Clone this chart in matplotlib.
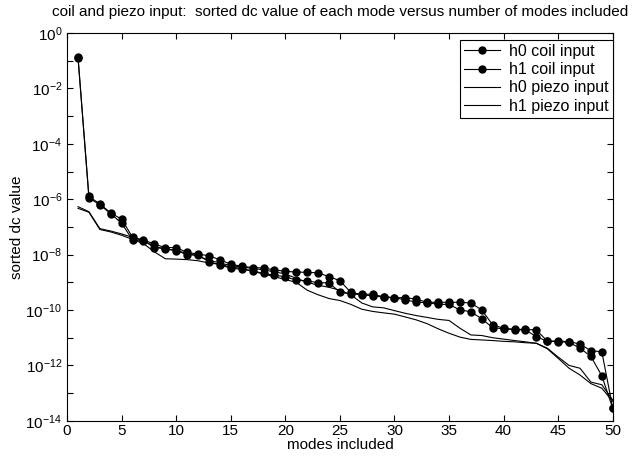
import matplotlib
matplotlib.use("Agg")
import matplotlib.pyplot as plt
from matplotlib.ticker import FixedLocator, FuncFormatter, NullLocator

plt.rcParams['font.family'] = ['Liberation Sans', 'DejaVu Sans']
plt.rcParams['font.size'] = 11
plt.rcParams['mathtext.fontset'] = 'custom'
plt.rcParams['mathtext.rm'] = 'Liberation Sans'

# modes included
modes = list(range(1, 51))

# sorted dc values
h0_coil = [1.35e-1, 1.26e-6, 6.8e-7, 3.2e-7, 1.9e-7, 4.2e-8, 3.4e-8, 2.4e-8, 1.8e-8, 1.8e-8,
           1.2e-8, 1.05e-8, 9.1e-9, 6.5e-9, 4.5e-9, 3.8e-9, 3.4e-9, 3.3e-9, 2.8e-9, 2.5e-9,
           2.35e-9, 2.3e-9, 2.2e-9, 1.6e-9, 1.15e-9, 4.3e-10, 3.7e-10, 3.7e-10, 3.0e-10, 2.8e-10,
           2.8e-10, 2.45e-10, 1.9e-10, 1.9e-10, 1.9e-10, 1.9e-10, 1.8e-10, 1.0e-10, 2.9e-11, 2.2e-11,
           2.0e-11, 2.0e-11, 1.9e-11, 7.6e-12, 7.6e-12, 7.2e-12, 5.9e-12, 3.4e-12, 3.1e-12, 2.9e-14]
h1_coil = [1.3e-1, 1.12e-6, 6.3e-7, 3.0e-7, 1.35e-7, 3.4e-8, 3.2e-8, 1.8e-8, 1.65e-8, 1.4e-8,
           1.0e-8, 9.5e-9, 5.5e-9, 4.3e-9, 3.2e-9, 3.0e-9, 2.6e-9, 2.1e-9, 1.8e-9, 1.6e-9,
           1.2e-9, 1.12e-9, 9.8e-10, 9.5e-10, 4.4e-10, 3.8e-10, 3.6e-10, 3.2e-10, 2.95e-10, 2.75e-10,
           2.35e-10, 1.9e-10, 1.85e-10, 1.6e-10, 1.6e-10, 1.0e-10, 8.7e-11, 4.8e-11, 2.3e-11, 2.1e-11,
           1.95e-11, 1.9e-11, 1.1e-11, 7.4e-12, 7.2e-12, 6.8e-12, 4.2e-12, 2.1e-12, 4.2e-13, 2.8e-14]
h0_piezo = [5.4e-7, 3.55e-7, 8.7e-8, 7.1e-8, 5.6e-8, 4.2e-8, 3.2e-8, 2.0e-8, 1.6e-8, 1.4e-8,
            1.12e-8, 8.9e-9, 6.3e-9, 5.0e-9, 4.0e-9, 3.55e-9, 3.2e-9, 2.8e-9, 2.4e-9, 2.0e-9,
            1.4e-9, 1.0e-9, 7.9e-10, 6.6e-10, 5.2e-10, 3.55e-10, 1.8e-10, 1.3e-10, 1.2e-10, 9.5e-11,
            7.6e-11, 6.3e-11, 5.4e-11, 4.6e-11, 4.2e-11, 2.2e-11, 1.26e-11, 1.2e-11, 1.0e-11, 8.9e-12,
            7.9e-12, 7.1e-12, 6.3e-12, 4.2e-12, 2.0e-12, 1.0e-12, 7.9e-13, 2.5e-13, 2.0e-13, 5.6e-14]
h1_piezo = [4.7e-7, 3.4e-7, 8.1e-8, 6.6e-8, 5.0e-8, 3.55e-8, 2.5e-8, 1.26e-8, 7.1e-9, 6.9e-9,
            6.6e-9, 6.0e-9, 5.0e-9, 4.5e-9, 3.55e-9, 3.2e-9, 2.5e-9, 2.0e-9, 1.6e-9, 1.26e-9,
            1.0e-9, 5.2e-10, 3.55e-10, 2.6e-10, 2.2e-10, 1.6e-10, 1.07e-10, 8.9e-11, 7.9e-11, 7.1e-11,
            5.6e-11, 4.4e-11, 3.2e-11, 2.1e-11, 1.45e-11, 1.05e-11, 8.7e-12, 8.3e-12, 7.9e-12, 7.4e-12,
            7.1e-12, 6.6e-12, 6.3e-12, 4.0e-12, 1.8e-12, 7.9e-13, 4.5e-13, 2.2e-13, 1.5e-13, 5.0e-14]

fig = plt.figure(figsize=(6.33, 4.66), dpi=100)
ax = fig.add_axes([0.106, 0.097, 0.862, 0.832])

ax.semilogy(modes, h0_coil, 'k-', marker='o', ms=5, lw=0.8, label='h0 coil input')
ax.semilogy(modes, h1_coil, 'k-', marker='o', ms=5, lw=0.8, label='h1 coil input')
ax.semilogy(modes, h0_piezo, 'k-', lw=0.8, label='h0 piezo input')
ax.semilogy(modes, h1_piezo, 'k-', lw=0.8, label='h1 piezo input')

ax.set_xlim(0, 50)
ax.set_ylim(1e-14, 1e0)
ax.set_xticks(range(0, 51, 5))
ax.yaxis.set_major_locator(FixedLocator([10.0 ** -k for k in range(0, 15)]))
ax.yaxis.set_minor_locator(NullLocator())


def fmt(v, pos):
    import math
    e = int(round(math.log10(v)))
    if e % 2:
        return ''
    return r'$\mathregular{10^{%d}}$' % e


ax.yaxis.set_major_formatter(FuncFormatter(fmt))
ax.tick_params(direction='in', top=True, right=True, length=4, width=0.8, labelsize=11)
ax.tick_params(axis='x', pad=2)
for s in ax.spines.values():
    s.set_linewidth(0.8)

ax.set_xlabel('modes included', labelpad=0)
ax.set_ylabel('sorted dc value', labelpad=1)
ax.set_title('coil and piezo input:  sorted dc value of each mode versus number of modes included',
             fontsize=11, pad=12)

leg = ax.legend(loc='upper right', bbox_to_anchor=(1.0, 0.982), fancybox=False, framealpha=1,
                edgecolor='black', fontsize=11.5, handlelength=2.2, borderpad=0.25,
                labelspacing=0.2, handletextpad=0.6, borderaxespad=0.0)
leg.get_frame().set_linewidth(0.8)

fig.savefig('out.png', dpi=100)
